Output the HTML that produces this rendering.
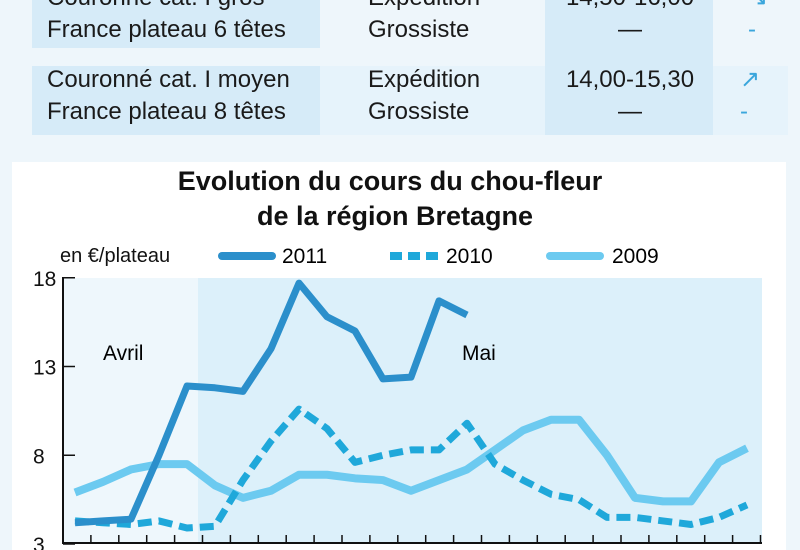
<!DOCTYPE html>
<html><head><meta charset="utf-8"><style>
body{margin:0;width:800px;height:550px;overflow:hidden;background:#eef6fb;font-family:"Liberation Sans Narrow","Liberation Sans",sans-serif;color:#1a1a1a;position:relative}
.c{position:absolute;font-size:24px;line-height:32px}
.blk{position:absolute;background:#d6ebf8}
</style></head><body>
<div class="blk" style="left:32px;top:0;width:288px;height:48px"></div>
<div class="blk" style="left:545px;top:0;width:168px;height:135px"></div>
<div class="blk" style="left:32px;top:66px;width:288px;height:69px;background:#d6ebf8"></div>
<div class="blk" style="left:320px;top:66px;width:225px;height:69px;background:#e6f3fb"></div>
<div class="blk" style="left:713px;top:66px;width:75px;height:69px;background:#e6f3fb"></div>
<div class="c" style="left:47px;top:-18px">Couronné cat. I gros<br>France plateau 6 têtes</div>
<div class="c" style="left:368px;top:-18px">Expédition<br>Grossiste</div>
<div class="c" style="left:560px;top:-18px;width:140px;text-align:center">14,50-16,00<br>—</div>
<div class="c" style="left:748px;top:-18px;color:#3aa6dc">↘<br>-</div>
<div class="c" style="left:47px;top:64px">Couronné cat. I moyen<br>France plateau 8 têtes</div>
<div class="c" style="left:368px;top:64px">Expédition<br>Grossiste</div>
<div class="c" style="left:555px;top:64px;width:150px;text-align:center">14,00-15,30<br>—</div>
<div class="c" style="left:740px;top:64px;color:#3aa6dc">↗<br>-</div>
<div style="position:absolute;left:12px;top:162px;width:774px;height:388px;background:#fff"></div>
<svg id="ch" width="800" height="550" style="position:absolute;left:0;top:0" font-family="Liberation Sans Narrow, Liberation Sans, sans-serif">
<text x="390" y="190" text-anchor="middle" font-size="27" font-weight="bold" fill="#111">Evolution du cours du chou-fleur</text>
<text x="395" y="225" text-anchor="middle" font-size="27" font-weight="bold" fill="#111">de la région Bretagne</text>
<text x="60" y="262" font-size="20" fill="#111">en €/plateau</text>
<line x1="222" y1="256" x2="272" y2="256" stroke="#2b8fcb" stroke-width="8" stroke-linecap="round"/>
<text x="282" y="263" font-size="21">2011</text>
<line x1="390" y1="256" x2="438" y2="256" stroke="#1fa8da" stroke-width="8" stroke-dasharray="12 6"/>
<text x="446" y="263" font-size="21">2010</text>
<line x1="550" y1="256" x2="600" y2="256" stroke="#6ccaf0" stroke-width="8" stroke-linecap="round"/>
<text x="612" y="263" font-size="21">2009</text>
<rect x="63" y="278" width="135" height="265" fill="#eef7fc"/>
<rect x="198" y="278" width="564" height="265" fill="#dcf0fa"/>
<text x="103" y="360" font-size="21">Avril</text>
<text x="462" y="360" font-size="21">Mai</text>
<g id="axes"></g><g id="series"></g>
</svg>
<script>
const yTicks=[3,8,13,18];
const s2011=[4.2,4.3,4.4,8,11.9,11.8,11.6,14,17.7,15.8,15,12.3,12.4,16.7,15.9];
const s2010=[4.3,4.2,4.1,4.3,3.9,4.0,6.6,8.8,10.6,9.5,7.6,8,8.3,8.3,9.8,7.5,6.6,5.8,5.5,4.5,4.5,4.3,4.1,4.5,5.2];
const s2009=[5.9,6.5,7.2,7.5,7.5,6.3,5.6,6.0,6.9,6.9,6.7,6.6,6.0,6.6,7.2,8.3,9.4,10,10,8,5.6,5.4,5.4,7.6,8.4];
const NS='http://www.w3.org/2000/svg';
const y=v=>544-(v-3)*17.75;
const x=i=>75+i*28;
const ax=document.getElementById('axes'),sg=document.getElementById('series');
function mk(tag,at,parent){const e=document.createElementNS(NS,tag);for(const k in at)e.setAttribute(k,at[k]);parent.appendChild(e);return e;}
const yl=mk('line',{x1:63,y1:277,x2:63,y2:543,stroke:'#111','stroke-width':2},ax);


const xl=mk('line',{x1:62,y1:543,x2:762,y2:543,stroke:'#111','stroke-width':2},ax);


for(let i=1;i<=25;i++){const t=mk('line',{x1:63+i*27.9,y1:543,x2:63+i*27.9,y2:535,stroke:'#111','stroke-width':1.5},ax);

}
yTicks.forEach(v=>{const t=mk('line',{x1:63,y1:y(v),x2:75,y2:y(v),stroke:'#111','stroke-width':1.5},ax);


const l=mk('text',{x:33,y:y(v)+8,'font-size':21,fill:'#111'},ax);l.textContent=v;

});
function line(d,col,dash,w,name){const p=mk('polyline',{points:d.map((v,i)=>x(i)+','+y(v)).join(' '),fill:'none',stroke:col,'stroke-width':w,'stroke-linejoin':'round'},sg);
if(dash)p.setAttribute('stroke-dasharray',dash);

}
line(s2009,'#6ccaf0',null,8,'line-2009');
line(s2010,'#1fa8da','14 7',7,'line-2010');
line(s2011,'#2b8fcb',null,7,'line-2011');
</script>
</body></html>
